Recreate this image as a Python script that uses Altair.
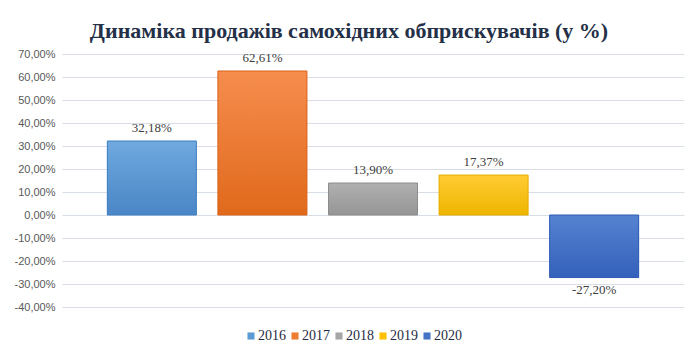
import altair as alt
import pandas as pd

years = ["2016", "2017", "2018", "2019", "2020"]
values = [32.18, 62.61, 13.90, 17.37, -27.20]
colors = ["#5b9bd5", "#ed7d31", "#a5a5a5", "#ffc000", "#4472c4"]
grad_top = ["#6fa9df", "#f68d4e", "#b0b0b0", "#ffcc33", "#5582d0"]
grad_bot = ["#4a86c6", "#e0691b", "#959595", "#eeb500", "#3461ba"]
strokes = ["#3f7fc0", "#d9631a", "#8c8c8c", "#e6ad00", "#2f5bb5"]
y_ticks = [-40, -30, -20, -10, 0, 10, 20, 30, 40, 50, 60, 70]

SERIF = "'Liberation Serif', 'Times New Roman', serif"
fmt = "replace(replace(format(datum.value, '.2f'), '.', ','), '\u2212', '-') + '%'"

df = pd.DataFrame({"year": years, "value": values})

x_enc = alt.X("year:N", sort=years, axis=None,
              scale=alt.Scale(paddingInner=0.195, paddingOuter=0.41))
y_enc = alt.Y("value:Q",
              scale=alt.Scale(domain=[-40, 70], nice=False, zero=True),
              axis=alt.Axis(values=y_ticks, title=None, domain=False, ticks=False,
                            labelExpr=fmt,
                            labelFont="Liberation Sans", labelFontSize=11,
                            labelColor="#595959", labelPadding=7,
                            gridColor="#d9dee6", gridWidth=1))

base = alt.Chart(df).mark_bar().encode(
    x=x_enc,
    y=y_enc,
    color=alt.Color("year:N", sort=years,
                    scale=alt.Scale(domain=years, range=colors),
                    legend=alt.Legend(title=None, orient="none", direction="horizontal",
                                      legendX=182, legendY=275,
                                      symbolType="square", symbolSize=50,
                                      symbolStrokeWidth=0,
                                      labelFont=SERIF, labelFontSize=14,
                                      labelColor="#1f2b44", labelOffset=0,
                                      columnPadding=2)),
)

layers = [base]
for i, yr in enumerate(years):
    layers.append(
        alt.Chart(df).transform_filter(alt.datum.year == yr).mark_bar(
            color=alt.Gradient(gradient="linear",
                               stops=[alt.GradientStop(color=grad_top[i], offset=0),
                                      alt.GradientStop(color=grad_bot[i], offset=1)],
                               x1=0, x2=0, y1=0, y2=1),
            stroke=strokes[i], strokeWidth=1,
        ).encode(x=x_enc, y=y_enc)
    )

lab_pos = alt.Chart(df).transform_filter(alt.datum.value >= 0).transform_calculate(
    lbl=fmt
).mark_text(font=SERIF, fontSize=13, color="#404040",
            baseline="bottom", dy=-6).encode(x=x_enc, y=y_enc, text="lbl:N")
lab_neg = alt.Chart(df).transform_filter(alt.datum.value < 0).transform_calculate(
    lbl=fmt
).mark_text(font=SERIF, fontSize=13, color="#404040",
            baseline="top", dy=6).encode(x=x_enc, y=y_enc, text="lbl:N")
layers += [lab_pos, lab_neg]

chart = alt.layer(*layers).properties(
    width=622, height=253,
    autosize=alt.AutoSizeParams(type="none"),
    padding={"left": 54, "top": 46, "right": 8, "bottom": 40},
    title=alt.TitleParams(
        "Динаміка продажів самохідних обприскувачів (у %)",
        font=SERIF, fontSize=22, fontWeight="bold",
        color="#243047", anchor="middle", dx=-24, offset=5,
    ),
    background="white",
).configure_view(stroke=None)

chart.save("out.html", embed_options={"renderer": "svg", "actions": False})
